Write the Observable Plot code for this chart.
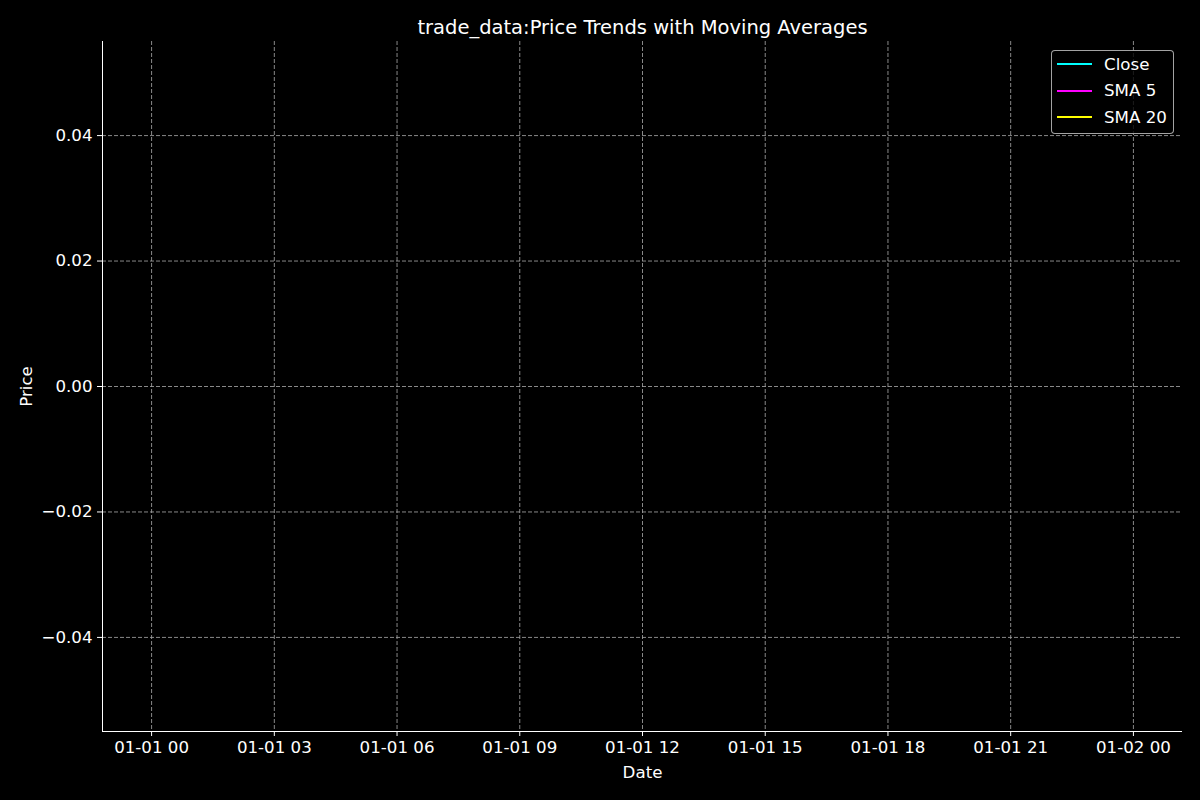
<!DOCTYPE html>
<html>
<head>
<meta charset="utf-8">
<script src="https://cdn.jsdelivr.net/npm/d3@7"></script>
<script src="https://cdn.jsdelivr.net/npm/@observablehq/plot@0.6"></script>
<style>
  html, body { margin: 0; padding: 0; background: #000; }
  #wrap { position: relative; width: 1200px; height: 800px; background: #000; font-family: "DejaVu Sans", sans-serif; }
  #legend { position: absolute; left: 1051px; top: 50px; width: 123px; height: 84px; border: 1px solid rgba(204,204,204,0.8); border-radius: 4px; background: rgba(0,0,0,0.8); box-sizing: border-box; color: #fff; font-size: 16.67px; }
  .row { position: absolute; left: 0; height: 20px; display: flex; align-items: center; }
  .sw { width: 35px; height: 0; border-top: 2px solid; margin-left: 5px; margin-right: 12px; }
</style>
</head>
<body>
<div id="wrap"></div>
<script>
// Data (the source chart is empty: no rows)
const dates = [];
const closePrices = [];
const sma5 = [];
const sma20 = [];
const seriesNames = ["Close", "SMA 5", "SMA 20"];
const seriesColors = ["#00ffff", "#ff00ff", "#ffff00"];
const xDomain = [new Date(Date.UTC(1999, 11, 31, 22, 48)), new Date(Date.UTC(2000, 0, 2, 1, 12))];
const yDomain = [-0.055, 0.055];
const yTicks = [-0.04, -0.02, 0.00, 0.02, 0.04];
const xTicks = d3.utcHour.every(3).range(xDomain[0], xDomain[1]);
const titleText = "trade_data:Price Trends with Moving Averages";

const rows = dates.map((d, i) => ({date: d, close: closePrices[i], sma5: sma5[i], sma20: sma20[i]}));

const chart = Plot.plot({
  width: 1200,
  height: 800,
  marginLeft: 102,
  marginRight: 18,
  marginTop: 41,
  marginBottom: 69,
  style: {background: "#000", color: "#fff", fontFamily: "DejaVu Sans, sans-serif", fontSize: "16.67px"},
  x: {type: "utc", domain: xDomain},
  y: {domain: yDomain},
  marks: [
    Plot.ruleX(xTicks, {stroke: "#a0a0a0", strokeOpacity: 0.85, strokeWidth: 1, strokeDasharray: "4,2"}),
    Plot.ruleY(yTicks, {stroke: "#a0a0a0", strokeOpacity: 0.85, strokeWidth: 1, strokeDasharray: "4,2"}),
    Plot.lineY(rows, {x: "date", y: "close", stroke: seriesColors[0], strokeWidth: 1.5}),
    Plot.lineY(rows, {x: "date", y: "sma5", stroke: seriesColors[1], strokeWidth: 1.5}),
    Plot.lineY(rows, {x: "date", y: "sma20", stroke: seriesColors[2], strokeWidth: 1.5}),
    Plot.ruleX([xDomain[0]], {stroke: "#fff", strokeWidth: 1}),
    Plot.ruleY([yDomain[0]], {stroke: "#fff", strokeWidth: 1}),
    Plot.axisX({ticks: xTicks, tickFormat: d3.utcFormat("%m-%d %H"), tickSize: 5, tickPadding: 5, stroke: "#fff", fill: "#fff", fontSize: 16.67, label: "Date", labelAnchor: "center", labelArrow: "none", labelOffset: 46}),
    Plot.axisY({ticks: yTicks, tickFormat: d3.format(".2f"), tickSize: 5, tickPadding: 5, stroke: "#fff", fill: "#fff", fontSize: 16.67, label: "Price", labelAnchor: "center", labelArrow: "none", labelOffset: 82}),
    Plot.text([titleText], {frameAnchor: "top", dy: -8, lineAnchor: "bottom", fill: "#fff", fontSize: 19.5})
  ]
});
const wrap = document.getElementById("wrap");
wrap.appendChild(chart);

const legend = document.createElement("div");
legend.id = "legend";
seriesNames.forEach((name, i) => {
  const r = document.createElement("div");
  r.className = "row";
  r.style.top = (3 + i * 26.5) + "px";
  const sw = document.createElement("span");
  sw.className = "sw";
  sw.style.borderTopColor = seriesColors[i];
  const t = document.createElement("span");
  t.textContent = name;
  r.appendChild(sw); r.appendChild(t);
  legend.appendChild(r);
});
wrap.appendChild(legend);
</script>
</body>
</html>
